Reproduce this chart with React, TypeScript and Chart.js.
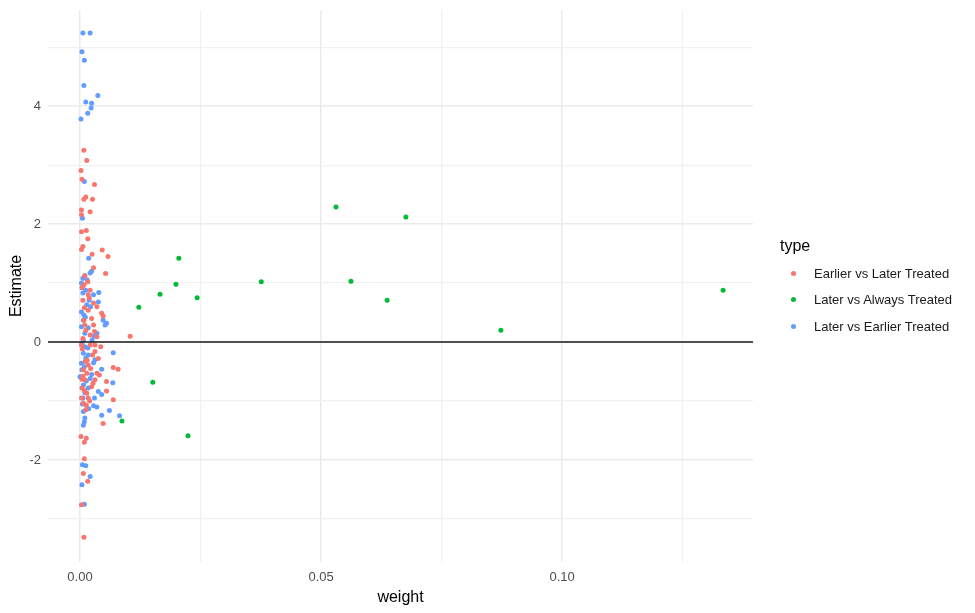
import React, { useEffect, useRef } from "react";
import { Chart, registerables } from "chart.js";

Chart.register(...registerables);

const seriesNames = ["Earlier vs Later Treated", "Later vs Always Treated", "Later vs Earlier Treated"];
const seriesColors = ["#F8766D", "#00BA38", "#619CFF"];

const earlierLaterWeight = [
  0.0008, 0.0014, 0.0002, 0.0004, 0.0030, 0.0012, 0.0026, 0.0008, 0.0003, 0.0021,
  0.0003, 0.0003, 0.0013, 0.0016, 0.0006, 0.0003, 0.0046, 0.0025, 0.0058, 0.0028,
  0.0053, 0.0010, 0.0016, 0.0008, 0.0021, 0.0017, 0.0006, 0.0028, 0.0035, 0.0017,
  0.0045, 0.0048, 0.0008, 0.0010, 0.0028, 0.0021, 0.0006, 0.0104, 0.0035, 0.0003,
  0.0021, 0.0031, 0.0043, 0.0031, 0.0038, 0.0015, 0.0017, 0.0007, 0.0069, 0.0079,
  0.0014, 0.0035, 0.0040, 0.0010, 0.0031, 0.0004, 0.0055, 0.0024, 0.0004, 0.0014,
  0.0055, 0.0003, 0.0017, 0.0069, 0.0007, 0.0013, 0.0048, 0.0002, 0.0013, 0.0009,
  0.0009, 0.0007, 0.0016, 0.0003, 0.0008,
  0.0005, 0.0019, 0.0009, 0.0024, 0.0012, 0.0030, 0.0005, 0.0026, 0.0011, 0.0022,
  0.0006, 0.0027, 0.0009, 0.0020, 0.0012,
];
const earlierLaterEstimate = [
  3.25, 3.08, 2.91, 2.76, 2.67, 2.46, 2.42, 2.42, 2.24, 2.21,
  2.16, 1.87, 1.89, 1.75, 1.62, 1.57, 1.56, 1.49, 1.45, 1.26,
  1.16, 1.12, 1.02, 0.97, 0.88, 0.80, 0.71, 0.66, 0.60, 0.54,
  0.49, 0.44, 0.37, 0.29, 0.29, 0.12, 0.06, 0.10, 0.09, -0.05,
  -0.05, -0.05, -0.08, -0.16, -0.28, -0.31, -0.39, -0.47, -0.43, -0.46,
  -0.53, -0.53, -0.56, -0.64, -0.64, -0.63, -0.67, -0.76, -0.78, -0.87,
  -0.83, -0.95, -0.95, -0.98, -1.04, -1.07, -1.38, -1.60, -1.63, -1.70,
  -1.98, -2.23, -2.36, -2.76, -3.31,
  0.93, 0.75, 0.58, 0.40, 0.20, 0.18, -0.12, -0.22, -0.33, -0.45,
  -0.58, -0.70, -0.82, -1.00, -1.15,
];

const laterAlwaysWeight = [
  0.0122, 0.0166, 0.0199, 0.0205, 0.0243, 0.0376, 0.0531, 0.0562, 0.0637, 0.0676,
  0.0873, 0.1334, 0.0151, 0.0087, 0.0224,
];
const laterAlwaysEstimate = [
  0.59, 0.81, 0.98, 1.42, 0.75, 1.02, 2.29, 1.03, 0.71, 2.12,
  0.20, 0.88, -0.68, -1.34, -1.59,
];

const laterEarlierWeight = [
  0.0006, 0.0021, 0.0004, 0.0009, 0.0008, 0.0037, 0.0012, 0.0024, 0.0023, 0.0016,
  0.0002, 0.0009, 0.0005, 0.0018, 0.0021, 0.0024, 0.0010, 0.0006, 0.0003, 0.0012,
  0.0006, 0.0028, 0.0039, 0.0019, 0.0014, 0.0038, 0.0003, 0.0008, 0.0048, 0.0007,
  0.0003, 0.0017, 0.0055, 0.0052, 0.0010, 0.0035, 0.0007, 0.0025, 0.0010, 0.0007,
  0.0017, 0.0069, 0.0012, 0.0003, 0.0028, 0.0045, 0.0004, 0.0000, 0.0021, 0.0068,
  0.0007, 0.0017, 0.0010, 0.0038, 0.0045, 0.0006, 0.0028, 0.0035, 0.0061, 0.0045,
  0.0082, 0.0007, 0.0010, 0.0007, 0.0005, 0.0012, 0.0021, 0.0004, 0.0009,
  0.0015, 0.0004, 0.0022, 0.0011, 0.0029, 0.0004, 0.0016, 0.0031, 0.0009, 0.0024,
  0.0013, 0.0030, 0.0005, 0.0018, 0.0009,
];
const laterEarlierEstimate = [
  5.24, 5.24, 4.92, 4.78, 4.35, 4.18, 4.07, 4.05, 3.97, 3.88,
  3.78, 2.72, 2.10, 1.42, 1.17, 1.20, 1.13, 1.08, 1.00, 0.88,
  0.83, 0.80, 0.84, 0.71, 0.63, 0.68, 0.51, 0.46, 0.37, 0.37,
  0.26, 0.24, 0.32, 0.29, 0.15, 0.15, 0.03, 0.03, -0.08, -0.19,
  -0.22, -0.18, -0.27, -0.36, -0.35, -0.46, -0.47, -0.59, -0.62, -0.69,
  -0.73, -0.78, -0.86, -0.84, -0.89, -0.95, -1.08, -1.10, -1.16, -1.24,
  -1.25, -1.18, -1.29, -1.41, -2.08, -2.10, -2.28, -2.42, -2.75,
  1.05, 0.92, 0.60, 0.42, 0.10, -0.02, -0.10, -0.30, -0.42, -0.55,
  -0.66, -0.95, -1.05, -1.13, -1.35,
];

const xMajorTicks = [0, 0.05, 0.1];
const xMinorTicks = [0.025, 0.075, 0.125];
const yMajorTicks = [-2, 0, 2, 4];
const yMinorTicks = [-3, -1, 1, 3, 5];

const xLimits = [-0.00664, 0.1396];
const yLimits = [-3.73, 5.63];

function toPoints(w: number[], e: number[]) {
  return w.map((x, i) => ({ x, y: e[i] }));
}

const zeroLine = {
  id: "zeroLine",
  afterDatasetsDraw(chart: any) {
    const { ctx, chartArea, scales } = chart;
    const y = scales.y.getPixelForValue(0);
    ctx.save();
    ctx.strokeStyle = "#1a1a1a";
    ctx.lineWidth = 1.4;
    ctx.beginPath();
    ctx.moveTo(chartArea.left, y);
    ctx.lineTo(chartArea.right, y);
    ctx.stroke();
    ctx.restore();
  },
};

const FONT = "'Liberation Sans', Arial, sans-serif";

export default function App() {
  const ref = useRef<HTMLCanvasElement | null>(null);

  useEffect(() => {
    if (!ref.current) return;
    Chart.defaults.font.family = FONT;
    const xAll = [...xMajorTicks, ...xMinorTicks].sort((a, b) => a - b);
    const yAll = [...yMajorTicks, ...yMinorTicks].sort((a, b) => a - b);
    const isMajorX = (v: number) => xMajorTicks.some((m) => Math.abs(m - v) < 1e-9);
    const isMajorY = (v: number) => yMajorTicks.some((m) => Math.abs(m - v) < 1e-9);

    const series = [
      toPoints(earlierLaterWeight, earlierLaterEstimate),
      toPoints(laterAlwaysWeight, laterAlwaysEstimate),
      toPoints(laterEarlierWeight, laterEarlierEstimate),
    ];
    const order = [0, 2, 1];

    const chart = new Chart(ref.current, {
      type: "scatter",
      data: {
        datasets: order.map((i) => ({
          label: seriesNames[i],
          data: series[i],
          backgroundColor: seriesColors[i],
          borderWidth: 0,
          pointRadius: 2.5,
          pointHoverRadius: 2.5,
        })),
      },
      options: {
        animation: false,
        responsive: false,
        events: [],
        layout: { padding: { left: 0, top: 10, right: 222, bottom: 0 } },
        plugins: { legend: { display: false }, tooltip: { enabled: false } },
        scales: {
          x: {
            type: "linear",
            min: xLimits[0],
            max: xLimits[1],
            afterBuildTicks: (s: any) => {
              s.ticks = xAll.map((v) => ({ value: v }));
            },
            afterFit: (s: any) => {
              s.height = 51;
              s.paddingLeft = 0;
              s.paddingRight = 0;
              s.paddingTop = 0;
              s.paddingBottom = 0;
            },
            ticks: {
              autoSkip: false,
              maxRotation: 0,
              padding: 8,
              color: "#4D4D4D",
              font: { size: 13 },
              callback: (v: any) => (isMajorX(Number(v)) ? Number(v).toFixed(2) : ""),
            },
            grid: {
              drawTicks: false,
              color: (c: any) => (isMajorX(c.tick.value) ? "#EBEBEB" : "#F1F1F1"),
              lineWidth: (c: any) => (isMajorX(c.tick.value) ? 1.5 : 1.2),
            },
            border: { display: false },
            title: {
              display: true,
              text: "weight",
              color: "#000000",
              font: { size: 16 },
              padding: { top: 0, bottom: 6 },
            },
          },
          y: {
            type: "linear",
            min: yLimits[0],
            max: yLimits[1],
            afterBuildTicks: (s: any) => {
              s.ticks = yAll.map((v) => ({ value: v }));
            },
            afterFit: (s: any) => {
              s.width = 48;
              s.paddingLeft = 0;
              s.paddingRight = 0;
              s.paddingTop = 0;
              s.paddingBottom = 0;
            },
            ticks: {
              autoSkip: false,
              padding: 7,
              color: "#4D4D4D",
              font: { size: 13 },
              callback: (v: any) => (isMajorY(Number(v)) ? String(Number(v)) : ""),
            },
            grid: {
              drawTicks: false,
              color: (c: any) => (isMajorY(c.tick.value) ? "#EBEBEB" : "#F1F1F1"),
              lineWidth: (c: any) => (isMajorY(c.tick.value) ? 1.5 : 1.2),
            },
            border: { display: false },
            title: {
              display: true,
              text: "Estimate",
              color: "#000000",
              font: { size: 16 },
              padding: { top: 7, bottom: 0 },
            },
          },
        },
      },
      plugins: [zeroLine],
    } as any);

    return () => chart.destroy();
  }, []);

  return (
    <div style={{ position: "fixed", left: 0, top: 0, width: 975, height: 613, background: "#fff", fontFamily: FONT }}>
      <canvas ref={ref} width={975} height={613} style={{ position: "absolute", left: 0, top: 0 }} />
      <div style={{ position: "absolute", left: 780, top: 236, fontSize: 16, color: "#000", lineHeight: "20px" }}>type</div>
      {seriesNames.map((name, i) => (
        <div
          key={name}
          style={{ position: "absolute", left: 788, top: 264 + i * 26.5, height: 18, display: "flex", alignItems: "center" }}
        >
          <span
            style={{
              display: "inline-block",
              width: 5,
              height: 5,
              borderRadius: "50%",
              background: seriesColors[i],
              marginLeft: 3,
              marginRight: 18,
            }}
          />
          <span style={{ fontSize: 13, color: "#1a1a1a", whiteSpace: "nowrap" }}>{name}</span>
        </div>
      ))}
    </div>
  );
}
